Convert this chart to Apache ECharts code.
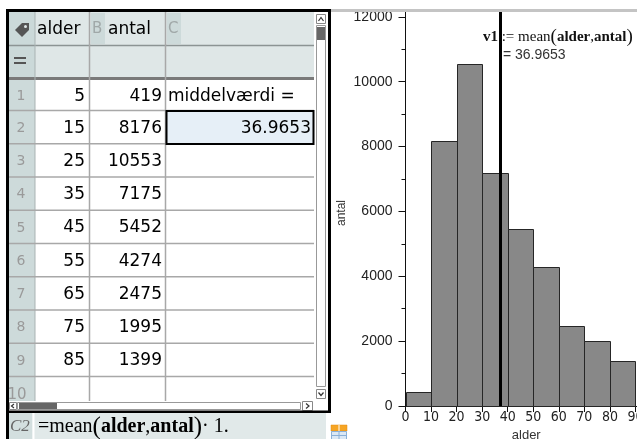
<!DOCTYPE html>
<html><head><meta charset="utf-8">
<script src="https://cdn.jsdelivr.net/npm/echarts@6/dist/echarts.min.js"></script>
<style>html,body{margin:0;padding:0;background:#fff}#c{width:637px;height:439px}</style>
</head><body><div id="c"></div>
<script>
// ---- data ----
const alder = [5, 15, 25, 35, 45, 55, 65, 75, 85];
const antal = [419, 8176, 10553, 7175, 5452, 4274, 2475, 1995, 1399];
const binWidth = 10;
const yTicks = [0, 2000, 4000, 6000, 8000, 10000, 12000];
const yMinorTicks = [1000, 3000, 5000, 7000, 9000, 11000];
const colHeaders = ['alder', 'antal'];
const c1Text = 'middelværdi =';

// weighted mean (the sheet's formula mean(alder, antal))
let sw = 0, s = 0;
alder.forEach((a, i) => { s += a * antal[i]; sw += antal[i]; });
const meanVal = s / sw;
const meanStr = meanVal.toFixed(4);

const SANS = '"DejaVu Sans", sans-serif';
const SERIF = '"Liberation Serif", "Times New Roman", serif';
const AR = '"Liberation Sans", Arial, sans-serif';

const g = [];
function rect(x, y, w, h, fill, stroke, lw, z) {
  g.push({ type: 'rect', z: z || 10, silent: true, shape: { x, y, width: w, height: h },
    style: { fill: fill || 'none', stroke: stroke || null, lineWidth: lw || 0 } });
}
function line(x1, y1, x2, y2, color, lw, z) {
  g.push({ type: 'line', z: z || 11, silent: true, shape: { x1, y1, x2, y2 },
    style: { stroke: color, lineWidth: lw } });
}
function text(x, y, str, font, fill, align, z) {
  g.push({ type: 'text', z: z || 12, silent: true,
    style: { x, y, text: str, font, fill, align: align || 'left', verticalAlign: 'middle' } });
}

// ---- spreadsheet panel ----
const rowLines = [80, 110.5, 143.75, 177, 210.25, 243.5, 276.75, 310, 343.25, 376.5, 401];
rect(9, 12, 305, 66, '#dfe7e7');
rect(9, 12, 26, 66, '#cbd9d9');
rect(91, 13, 14, 31, '#cddada');
rect(167, 13, 14, 31, '#cddada');
rect(9, 80, 26, 322, '#cddada');
g.push({ type: 'polygon', z: 12, silent: true, shape: { points: [[15, 30], [22, 23], [29, 23], [29, 30], [22, 37]] }, style: { fill: '#555' } });
g.push({ type: 'circle', z: 13, silent: true, shape: { cx: 25.5, cy: 26.5, r: 1.5 }, style: { fill: '#dfe7e7' } });
text(37, 30, colHeaders[0], '17px ' + SANS, '#000');
text(92, 29, 'B', '15px ' + SANS, '#a0a8a8');
text(108, 30, colHeaders[1], '17px ' + SANS, '#000');
text(168, 29, 'C', '15px ' + SANS, '#a0a8a8');
rect(14, 57, 12, 2, '#555', null, 0, 12);
rect(14, 62, 12, 2, '#555', null, 0, 12);
line(9, 45.5, 314, 45.5, '#8c9494', 1.5);
line(9, 78.5, 314, 78.5, '#7a7a7a', 3);
line(35, 12, 35, 401, '#a9b3b3', 1);
line(89.5, 12, 89.5, 401, '#a8a8a8', 1.5);
line(165.5, 12, 165.5, 401, '#a8a8a8', 1.5);
for (let i = 1; i < rowLines.length - 1; i++) line(9, rowLines[i], 314, rowLines[i], '#a8a8a8', 1.5);
rect(166.5, 111, 147, 33, '#e6eff7', '#000', 2, 13);
alder.forEach((a, i) => {
  const cy = (rowLines[i] + rowLines[i + 1]) / 2 + 1;
  text(21, cy, String(i + 1), '14px ' + SANS, '#9a9a9a', 'center');
  text(85, cy, String(a), '17px ' + SANS, '#000', 'right');
  text(162, cy, String(antal[i]), '17px ' + SANS, '#000', 'right');
});
text(168, (rowLines[0] + rowLines[1]) / 2 + 1, c1Text, '17px ' + SANS, '#000');
text(311, (rowLines[1] + rowLines[2]) / 2 + 1, meanStr, '17px ' + SANS, '#000', 'right', 14);
text(17, 395, '10', '15px ' + SANS, '#9a9a9a', 'center');
// vertical scrollbar
rect(316.5, 14.5, 9, 9, '#fff', '#888', 1);
g.push({ type: 'polyline', z: 12, silent: true, shape: { points: [[318.5, 21], [321, 17.5], [323.5, 21]] }, style: { stroke: '#333', lineWidth: 1.2, fill: 'none' } });
rect(316.5, 25.5, 9, 361, '#fff', '#999', 1);
rect(317, 27, 8, 13, '#666');
rect(316.5, 389.5, 9, 9, '#fff', '#888', 1);
g.push({ type: 'polyline', z: 12, silent: true, shape: { points: [[318.5, 392.5], [321, 395.5], [323.5, 392.5]] }, style: { stroke: '#333', lineWidth: 1.2, fill: 'none' } });
// horizontal scrollbar
rect(9, 401, 305, 11, '#fff');
rect(9.5, 402.5, 7, 7, '#fff', '#888', 1);
g.push({ type: 'polyline', z: 12, silent: true, shape: { points: [[14, 404], [11.5, 406], [14, 408]] }, style: { stroke: '#333', lineWidth: 1.2, fill: 'none' } });
rect(17.5, 402.5, 283, 7, '#fff', '#999', 1);
rect(19, 403, 38, 6, '#666');
rect(302.5, 401.5, 10, 9, '#fff', '#888', 1);
g.push({ type: 'polyline', z: 12, silent: true, shape: { points: [[306, 403.5], [309, 406], [306, 408.5]] }, style: { stroke: '#333', lineWidth: 1.2, fill: 'none' } });
// formula bar
rect(9, 413, 317, 26, '#e1e9e9');
rect(9, 413, 23, 26, '#d3dfdf');
line(33.5, 413, 33.5, 439, '#fff', 2);
text(10, 427, 'C2', 'italic 17px ' + SERIF, '#666');
g.push({ type: 'text', z: 12, silent: true, style: {
  x: 38, y: 427, verticalAlign: 'middle',
  text: '{r|=mean}{p|(}{b|alder}{r|,}{b|antal}{p|)}{r|· 1.}',
  rich: {
    r: { font: '20px ' + SERIF, fill: '#000' },
    b: { font: 'bold 20px ' + SERIF, fill: '#000' },
    p: { font: '25px ' + SERIF, fill: '#000' }
  } } });
// black borders
rect(6, 9, 3, 430, '#000', null, 0, 20);
rect(6, 9, 325, 3, '#000', null, 0, 20);
rect(328, 9, 3, 404, '#000', null, 0, 20);
rect(6, 410.5, 322, 2.5, '#000', null, 0, 20);
rect(331, 9, 306, 3, '#c4c4c4', null, 0, 20);
// small icon
rect(331, 425, 16, 6, '#f6a524', '#e08a10', 0.5, 20);
line(339, 425, 339, 431, '#fff', 1, 21);
rect(331.5, 431.5, 15, 8, '#dbe8f5', '#8ab0d8', 1, 20);
line(331.5, 435.5, 346.5, 435.5, '#8ab0d8', 1, 21);
line(339, 431.5, 339, 439, '#8ab0d8', 1, 21);

// ---- chart ----
const chart = echarts.init(document.getElementById('c'), null, { renderer: 'canvas' });
const yMax = 12150;
chart.setOption({
  animation: false,
  backgroundColor: '#fff',
  grid: { left: 405.5, top: 12, width: 255.5, height: 394, containLabel: false, outerBoundsMode: 'none' },
  xAxis: {
    type: 'value', min: 0, max: 100, interval: 10,
    name: 'alder', nameLocation: 'middle', nameGap: 20,
    nameTextStyle: { fontSize: 13, fontFamily: 'Liberation Sans', color: '#333', padding: [0, 14, 0, 0] },
    axisLine: { lineStyle: { color: '#111', width: 1 } },
    axisTick: { show: true, length: 6, lineStyle: { color: '#111' } },
    axisLabel: { fontSize: 14, fontFamily: 'DejaVu Sans Condensed, DejaVu Sans', color: '#222', margin: 4, formatter: v => String(v) },
    splitLine: { show: false }
  },
  yAxis: [{
    type: 'value', min: 0, max: yMax,
    name: 'antal', nameLocation: 'middle', nameGap: 58,
    nameTextStyle: { fontSize: 12, fontFamily: 'Liberation Sans', color: '#333', padding: [0, 8, 0, 0] },
    axisLine: { show: true, lineStyle: { color: '#111', width: 1 } },
    axisTick: { show: true, length: 7, customValues: yTicks, lineStyle: { color: '#111' } },
    axisLabel: { customValues: yTicks, fontSize: 14, fontFamily: 'Liberation Sans', color: '#222', margin: 13, formatter: v => String(v) },
    splitLine: { show: false }
  }, {
    type: 'value', min: 0, max: yMax, position: 'left',
    axisLine: { show: false },
    axisTick: { show: true, length: 4, customValues: yMinorTicks, lineStyle: { color: '#111' } },
    axisLabel: { show: false },
    splitLine: { show: false }
  }],
  series: [{
    type: 'custom',
    data: alder.map((a, i) => [a, antal[i]]),
    renderItem: (params, api) => {
      const x = api.value(0), y = api.value(1);
      const p0 = api.coord([x - binWidth / 2, y]);
      const p1 = api.coord([x + binWidth / 2, 0]);
      return { type: 'rect',
        shape: { x: Math.round(p0[0]) + 0.5, y: Math.round(p0[1]) + 0.5, width: Math.round(p1[0]) - Math.round(p0[0]), height: Math.round(p1[1]) - Math.round(p0[1]) },
        style: { fill: '#888888', stroke: '#262626', lineWidth: 1 } };
    },
    markLine: {
      silent: true, symbol: 'none', animation: false,
      label: { show: false },
      lineStyle: { color: '#000', width: 3, type: 'solid' },
      data: [{ xAxis: meanVal }]
    }
  }],
  graphic: g
});

const mp = chart.convertToPixel({ xAxisIndex: 0, yAxisIndex: 0 }, [meanVal, 0]);
g.push({ type: 'text', z: 30, silent: true, style: {
  x: mp[0] - 17, y: 37, verticalAlign: 'middle',
  text: '{b|v1}{r| := mean}{p|(}{b|alder}{r|,}{b|antal}{p|)}',
  rich: {
    r: { font: '15px ' + SERIF, fill: '#111' },
    b: { font: 'bold 15px ' + SERIF, fill: '#111' },
    p: { font: '19px ' + SERIF, fill: '#111' }
  } } });
g.push({ type: 'text', z: 30, silent: true, style: {
  x: mp[0] + 3, y: 55, verticalAlign: 'middle', text: '= ' + meanStr,
  font: '14px ' + AR, fill: '#333' } });
chart.setOption({ graphic: g });
</script>
</body></html>
